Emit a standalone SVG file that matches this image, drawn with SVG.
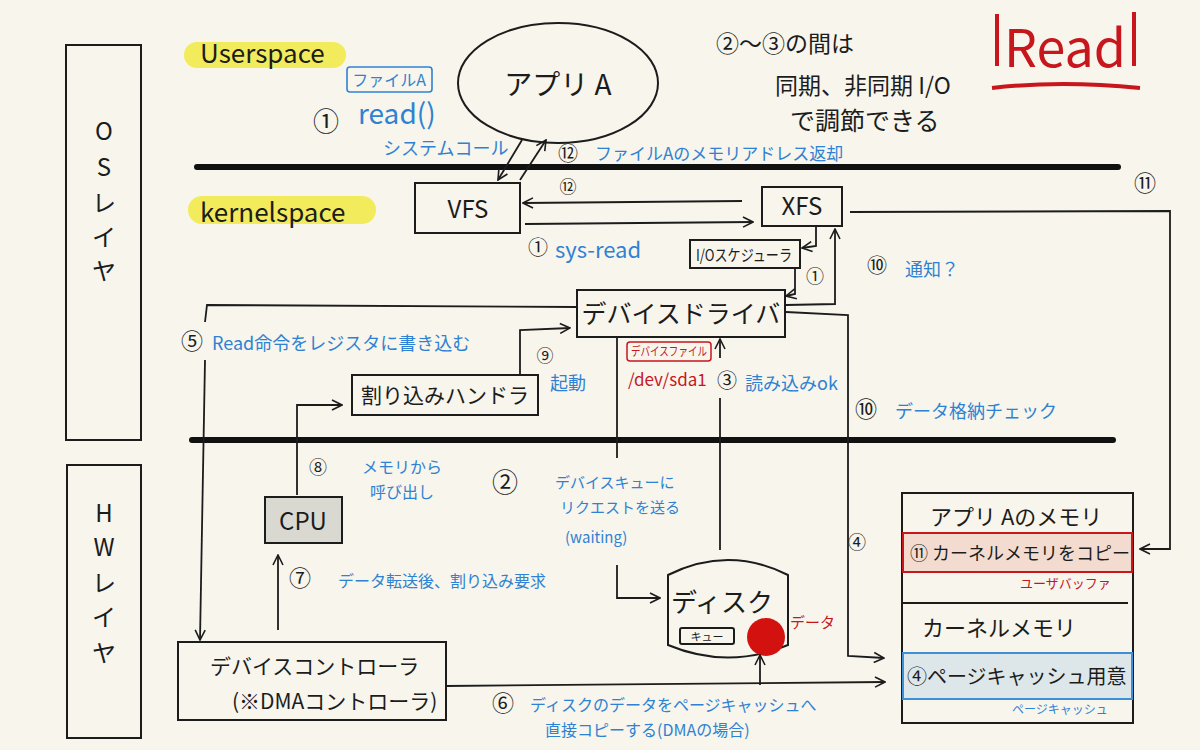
<svg xmlns="http://www.w3.org/2000/svg" width="1200" height="750" viewBox="0 0 1200 750">
<defs>
<style>
text{font-family:"Noto Sans CJK JP","Noto Sans",sans-serif;}
.k{fill:#1c1c1c;font-size:24px;}
.b{fill:#2f82d3;font-size:18px;}
.r{fill:#c8161d;}
.box{fill:none;stroke:#1c1c1c;stroke-width:2;}
.ln{fill:none;stroke:#1c1c1c;stroke-width:1.8;}
.thick{stroke:#111;stroke-width:6;stroke-linecap:round;}
.num{fill:#1c1c1c;font-size:22px;}
</style>
<marker id="ah" viewBox="0 0 12 12" refX="11" refY="6" markerWidth="12" markerHeight="12" markerUnits="userSpaceOnUse" orient="auto">
<path d="M1,1 L11,6 L1,11" fill="none" stroke="#1c1c1c" stroke-width="1.6"/>
</marker>
</defs>
<rect width="1200" height="750" fill="#f7f5ec"/>

<g id="os-layer">
<rect x="66" y="45" width="75" height="395" class="box"/>
<text class="k" x="104" y="140" text-anchor="middle">O</text>
<text class="k" x="104" y="176" text-anchor="middle">S</text>
<text class="k" x="104" y="212" text-anchor="middle">レ</text>
<text class="k" x="104" y="246" text-anchor="middle">イ</text>
<text class="k" x="104" y="280" text-anchor="middle">ヤ</text>
</g>
<g id="hw-layer">
<rect x="67" y="465" width="74" height="273" class="box"/>
<text class="k" x="104" y="522" text-anchor="middle">H</text>
<text class="k" x="104" y="556" text-anchor="middle">W</text>
<text class="k" x="104" y="592" text-anchor="middle">レ</text>
<text class="k" x="104" y="626" text-anchor="middle">イ</text>
<text class="k" x="104" y="662" text-anchor="middle">ヤ</text>
</g>

<g id="separators">
<line x1="197" y1="167" x2="1118" y2="167" class="thick"/>
<line x1="192" y1="440" x2="1113" y2="440" class="thick"/>
</g>

<g id="userspace-label">
<rect x="184" y="42" width="162" height="26" rx="13" fill="#f2ec5c"/>
<text class="k" x="200" y="63" style="font-size:26px">Userspace</text>
</g>
<g id="kernelspace-label">
<rect x="188" y="196" width="188" height="28" rx="14" fill="#f2ec5c"/>
<text class="k" x="200" y="222" style="font-size:26px">kernelspace</text>
</g>

<g id="app-a">
<ellipse cx="558" cy="83" rx="100" ry="60" class="box"/>
<text class="k" x="558" y="95" text-anchor="middle" style="font-size:28px">アプリ A</text>
</g>

<g id="syscall-label">
<rect x="347" y="67" width="85" height="25" rx="3" fill="none" stroke="#2f82d3" stroke-width="1.6"/>
<text class="b" x="389" y="86" text-anchor="middle" style="font-size:16px">ファイルA</text>
<text class="num" x="326" y="131" text-anchor="middle" style="font-size:26px">①</text>
<text class="b" x="358" y="124" style="font-size:28px">read()</text>
<text class="b" x="383" y="155">システムコール</text>
</g>

<g id="note">
<text class="k" x="716" y="52" style="font-size:23px">②〜③の間は</text>
<text class="k" x="775" y="94" style="font-size:23px">同期、非同期 I/O</text>
<text class="k" x="790" y="130" style="font-size:25px">で調節できる</text>
</g>

<g id="read-title">
<line x1="997" y1="14" x2="997" y2="66" stroke="#c8161d" stroke-width="4"/>
<line x1="1134" y1="12" x2="1134" y2="66" stroke="#c8161d" stroke-width="4"/>
<path d="M992,88 Q1060,80 1140,88" fill="none" stroke="#c8161d" stroke-width="4"/>
<text class="r" x="1065" y="67" text-anchor="middle" style="font-size:52px">Read</text>
</g>

<g id="vfs">
<rect x="415" y="183" width="105" height="50" class="box"/>
<text class="k" x="468" y="218" text-anchor="middle">VFS</text>
</g>
<g id="xfs">
<rect x="762" y="187" width="80" height="39" class="box"/>
<text class="k" x="802" y="215" text-anchor="middle">XFS</text>
</g>
<g id="io-scheduler">
<rect x="690" y="240" width="110" height="28" class="box"/>
<text class="k" x="744" y="261" text-anchor="middle" style="font-size:16px" textLength="96" lengthAdjust="spacingAndGlyphs">I/Oスケジューラ</text>
</g>
<g id="device-driver">
<rect x="577" y="290" width="208" height="47" class="box"/>
<text class="k" x="681" y="323" text-anchor="middle" style="font-size:25px">デバイスドライバ</text>
<rect x="627" y="342" width="84" height="19" rx="3" fill="none" stroke="#c8161d" stroke-width="1.5"/>
<text class="r" x="669" y="356" text-anchor="middle" style="font-size:12px" textLength="76" lengthAdjust="spacingAndGlyphs">デバイスファイル</text>
<text class="r" x="628" y="386" style="font-size:17px">/dev/sda1</text>
</g>
<g id="interrupt-handler">
<rect x="352" y="375" width="186" height="40" class="box"/>
<text class="k" x="445" y="403" text-anchor="middle" style="font-size:21px">割り込みハンドラ</text>
</g>
<g id="cpu">
<rect x="265" y="497" width="77" height="46" fill="#d9d9d2" stroke="#1c1c1c" stroke-width="2"/>
<text class="k" x="303" y="530" text-anchor="middle">CPU</text>
</g>
<g id="device-controller">
<rect x="178" y="642" width="268" height="78" class="box"/>
<text class="k" x="210" y="674" style="font-size:21px">デバイスコントローラ</text>
<text class="k" x="232" y="709" style="font-size:21px">(※DMAコントローラ)</text>
</g>
<g id="disk">
<path d="M668,575 Q728,545 788,575 L788,645 Q728,670 668,645 Z" class="box"/>
<text class="k" x="722" y="612" text-anchor="middle" style="font-size:26px">ディスク</text>
<rect x="680" y="628" width="54" height="16" rx="2" class="box" stroke-width="1.5"/>
<text class="k" x="707" y="641" text-anchor="middle" style="font-size:11px">キュー</text>
<circle cx="766" cy="637" r="19" fill="#d3110f"/>
<text class="r" x="790" y="628" style="font-size:15px">データ</text>
</g>
<g id="memory">
<rect x="902" y="493" width="231" height="230" class="box"/>
<text class="k" x="930" y="525" style="font-size:22px">アプリ Aのメモリ</text>
<rect x="903" y="533" width="229" height="39" fill="#f3dccf" stroke="#c8161d" stroke-width="2"/>
<text class="k" x="910" y="560" style="font-size:18px">⑪ カーネルメモリをコピー</text>
<text class="r" x="1020" y="588" style="font-size:13px">ユーザバッファ</text>
<line x1="902" y1="603" x2="1128" y2="603" class="ln"/>
<text class="k" x="922" y="636" style="font-size:22px">カーネルメモリ</text>
<rect x="903" y="653" width="229" height="46" fill="#dde7ea" stroke="#3d8fd6" stroke-width="2"/>
<text class="k" x="907" y="684" style="font-size:20px">④ページキャッシュ用意</text>
<text class="b" x="1012" y="714" style="font-size:12px">ページキャッシュ</text>
</g>

<g id="connectors">
<path d="M522,140 L498,180" class="ln" marker-end="url(#ah)"/>
<path d="M520,180 L546,140" class="ln" marker-end="url(#ah)"/>
<path d="M742,201 L523,203" class="ln" marker-end="url(#ah)"/>
<path d="M525,224 L753,222" class="ln" marker-end="url(#ah)"/>
<path d="M816,227 L816,246 L802,248" class="ln" marker-end="url(#ah)"/>
<path d="M795,268 L795,294 L786,296" class="ln" marker-end="url(#ah)"/>
<path d="M786,305 L835,304 L835,229" class="ln" marker-end="url(#ah)"/>
<path d="M850,212 L1170,211 L1170,549 L1140,549" class="ln" marker-end="url(#ah)"/>
<path d="M786,312 L848,315 L848,656 L884,658" class="ln" marker-end="url(#ah)"/>
<path d="M617,338 L617,458" class="ln"/>
<path d="M617,565 L617,598 L660,598" class="ln" marker-end="url(#ah)"/>
<path d="M720,550 L720,398" class="ln"/>
<path d="M720,358 L720,339" class="ln" marker-end="url(#ah)"/>
<path d="M576,307 L207,305 L205,322" class="ln"/>
<path d="M205,360 L200,640" class="ln" marker-end="url(#ah)"/>
<path d="M297,495 L297,405 L342,405" class="ln" marker-end="url(#ah)"/>
<path d="M520,374 L520,330 L570,328" class="ln" marker-end="url(#ah)"/>
<path d="M278,630 L278,555" class="ln" marker-end="url(#ah)"/>
<path d="M446,686 L885,682" class="ln" marker-end="url(#ah)"/>
<path d="M760,685 L760,655" class="ln" marker-end="url(#ah)"/>
</g>

<g id="connector-labels">
<text class="num" x="568" y="161" text-anchor="middle" style="font-size:20px">⑫</text>
<text class="b" x="595" y="160" style="font-size:17px">ファイルAのメモリアドレス返却</text>
<text class="num" x="568" y="193" text-anchor="middle" style="font-size:17px">⑫</text>
<text class="num" x="538" y="255" text-anchor="middle" style="font-size:20px">①</text>
<text class="b" x="555" y="258" style="font-size:22px">sys-read</text>
<text class="num" x="815" y="283" text-anchor="middle" style="font-size:18px">①</text>
<text class="num" x="877" y="273" text-anchor="middle" style="font-size:20px">⑩</text>
<text class="b" x="905" y="276">通知？</text>
<text class="num" x="727" y="388" text-anchor="middle" style="font-size:20px">③</text>
<text class="b" x="745" y="390">読み込みok</text>
<text class="num" x="866" y="417" text-anchor="middle">⑩</text>
<text class="b" x="895" y="418">データ格納チェック</text>
<text class="num" x="1145" y="191" text-anchor="middle">⑪</text>
<text class="num" x="181" y="349">⑤</text>
<text class="b" x="212" y="350">Read命令をレジスタに書き込む</text>
<text class="num" x="545" y="362" text-anchor="middle" style="font-size:17px">⑨</text>
<text class="b" x="550" y="390">起動</text>
<text class="num" x="318" y="474" text-anchor="middle" style="font-size:18px">⑧</text>
<text class="b" x="362" y="473" style="font-size:16px">メモリから</text>
<text class="b" x="370" y="498" style="font-size:16px">呼び出し</text>
<text class="num" x="505" y="492" text-anchor="middle" style="font-size:26px">②</text>
<text class="b" x="555" y="488" style="font-size:15px">デバイスキューに</text>
<text class="b" x="560" y="513" style="font-size:15px">リクエストを送る</text>
<text class="b" x="565" y="543" style="font-size:15px">(waiting)</text>
<text class="num" x="857" y="549" text-anchor="middle" style="font-size:18px">④</text>
<text class="num" x="300" y="586" text-anchor="middle">⑦</text>
<text class="b" x="338" y="587" style="font-size:16px">データ転送後、割り込み要求</text>
<text class="num" x="503" y="711" text-anchor="middle">⑥</text>
<text class="b" x="530" y="711" style="font-size:16px">ディスクのデータをページキャッシュへ</text>
<text class="b" x="545" y="736" style="font-size:16px">直接コピーする(DMAの場合)</text>
</g>
</svg>
